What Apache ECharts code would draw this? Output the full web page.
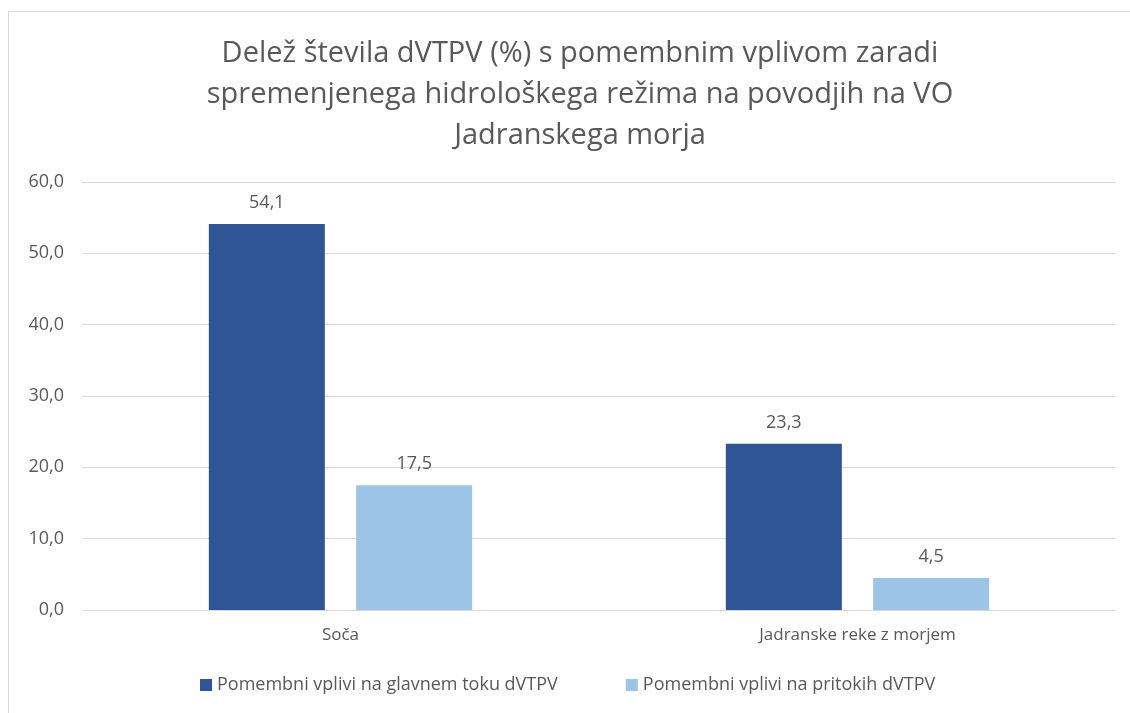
<!DOCTYPE html>
<html>
<head>
<meta charset="utf-8">
<script src="https://cdn.jsdelivr.net/npm/echarts@6/dist/echarts.min.js"></script>
<style>
  html, body { margin: 0; padding: 0; background: #fff; }
  #frame { position: absolute; left: 8px; top: 11px; width: 1130px; height: 720px; border: 1px solid #d9d9d9; box-sizing: border-box; }
  #chart { position: absolute; left: 0; top: 0; width: 1130px; height: 713px; }
</style>
</head>
<body>
<div id="frame"></div>
<div id="chart"></div>
<script>
var categories = ['Soča', 'Jadranske reke z morjem'];
var seriesNames = ['Pomembni vplivi na glavnem toku dVTPV', 'Pomembni vplivi na pritokih dVTPV'];
var mainFlow = [54.1, 23.3];
var tributaries = [17.5, 4.5];
var yTicks = [0, 10, 20, 30, 40, 50, 60];

var fontFam = '"Open Sans", "Noto Sans", sans-serif';
var textColor = '#595959';

var chart = echarts.init(document.getElementById('chart'));
function fmt(v) { return v.toFixed(1).replace('.', ','); }

chart.setOption({
  animation: false,
  title: {
    text: 'Delež števila dVTPV (%) s pomembnim vplivom zaradi\nspremenjenega hidrološkega režima na povodjih na VO\nJadranskega morja',
    left: 575,
    textAlign: 'center',
    top: 28,
    textStyle: { fontFamily: fontFam, fontSize: 29, fontWeight: 'normal', color: textColor, lineHeight: 41 }
  },
  legend: {
    bottom: 14,
    left: 195,
    itemWidth: 12,
    itemHeight: 12,
    itemGap: 68,
    icon: 'rect',
    textStyle: { fontFamily: fontFam, fontSize: 18, color: textColor },
    data: seriesNames
  },
  grid: { left: 82, right: 14, top: 182, bottom: 103, containLabel: false },
  xAxis: {
    type: 'category',
    data: categories,
    axisLine: { show: false },
    axisTick: { show: false },
    axisLabel: { fontFamily: fontFam, fontSize: 17, color: textColor, margin: 17 }
  },
  yAxis: {
    type: 'value',
    min: yTicks[0],
    max: yTicks[yTicks.length - 1],
    interval: 10,
    axisLine: { show: false },
    axisTick: { show: false },
    splitLine: { lineStyle: { color: '#d9d9d9', width: 1 } },
    axisLabel: { fontFamily: fontFam, fontSize: 18, color: textColor, margin: 18, formatter: fmt }
  },
  series: [
    {
      name: seriesNames[0],
      type: 'bar',
      data: mainFlow,
      barWidth: 116,
      barGap: '27%',
      itemStyle: { color: '#2F5597' },
      label: { show: true, position: 'top', distance: 12, fontFamily: fontFam, fontSize: 18, color: textColor, formatter: function (p) { return fmt(p.value); } }
    },
    {
      name: seriesNames[1],
      type: 'bar',
      data: tributaries,
      barWidth: 116,
      itemStyle: { color: '#9DC3E6' },
      label: { show: true, position: 'top', distance: 12, fontFamily: fontFam, fontSize: 18, color: textColor, formatter: function (p) { return fmt(p.value); } }
    }
  ]
});
</script>
</body>
</html>
